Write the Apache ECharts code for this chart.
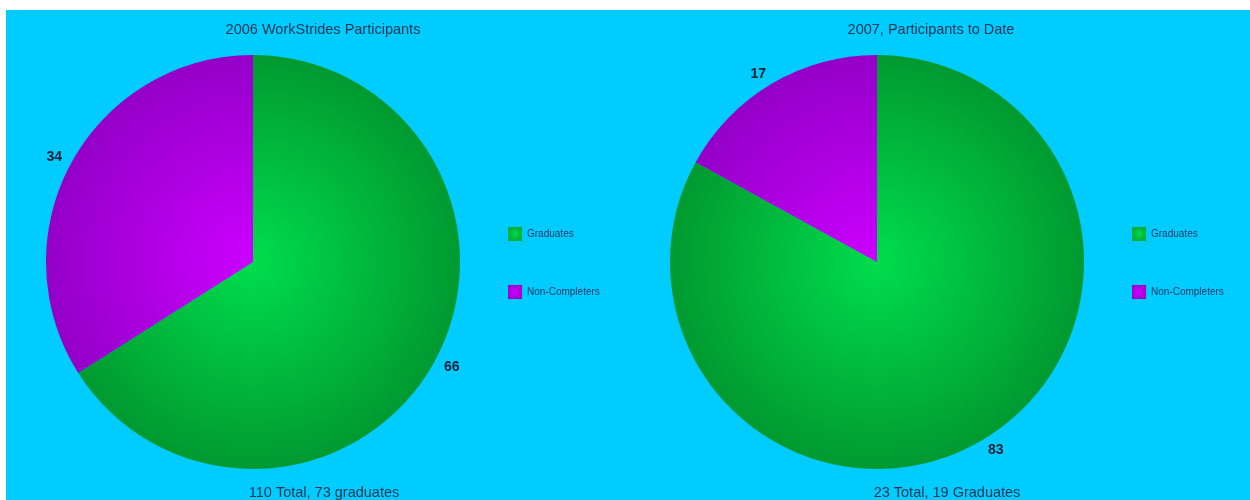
<!DOCTYPE html>
<html>
<head>
<meta charset="utf-8">
<script src="https://cdn.jsdelivr.net/npm/echarts@6/dist/echarts.min.js"></script>
<style>
html,body{margin:0;padding:0;background:#ffffff;}
#chart{width:1250px;height:500px;}
</style>
</head>
<body>
<div id="chart"></div>
<script>
const categories = ['Graduates', 'Non-Completers'];
const values2006 = [66, 34];
const values2007 = [83, 17];
const chartTitles = ['2006 WorkStrides Participants', '2007, Participants to Date'];
const chartFooters = ['110 Total, 73 graduates', '23 Total, 19 Graduates'];

const BG = '#00CCFF';
const TEXT = '#1a3552';
const FONT = 'Arial, "Liberation Sans", sans-serif';
const pies = [
  { cx: 253, cy: 262, r: 207, values: values2006, titleX: 318, footX: 319, legendX: 503 },
  { cx: 877, cy: 262, r: 207, values: values2007, titleX: 926, footX: 942, legendX: 1127 }
];

function grad(p, inner, outer) {
  return { type: 'radial', x: p.cx, y: p.cy, r: p.r, global: true,
    colorStops: [{ offset: 0, color: inner }, { offset: 1, color: outer }] };
}
function legendGrad(inner, outer) {
  return { type: 'radial', x: 0.5, y: 0.5, r: 0.6,
    colorStops: [{ offset: 0, color: inner }, { offset: 1, color: outer }] };
}

const chart = echarts.init(document.getElementById('chart'), null, { renderer: 'canvas' });

const option = {
  backgroundColor: '#ffffff',
  animation: false,
  graphic: [{
    type: 'rect', z: -10, silent: true,
    shape: { x: 6, y: 10, width: 1244, height: 490 },
    style: { fill: BG }
  }],
  title: pies.map((p, i) => ({
    text: chartTitles[i],
    left: p.titleX, top: 17, textAlign: 'center',
    textStyle: { fontSize: 14.5, fontWeight: 'normal', color: TEXT, fontFamily: FONT }
  })).concat(pies.map((p, i) => ({
    text: chartFooters[i],
    left: p.footX, top: 480, textAlign: 'center',
    textStyle: { fontSize: 14.5, fontWeight: 'normal', color: TEXT, fontFamily: FONT }
  }))),
  legend: pies.map((p, i) => ({
    orient: 'vertical', left: p.legendX, top: 222,
    itemWidth: 14, itemHeight: 14, itemGap: 44,
    icon: 'rect',
    data: categories.map((c, j) => ({
      name: c,
      itemStyle: { color: j === 0 ? legendGrad('#00dd4a', '#00a534') : legendGrad('#d400ff', '#9a00cc') }
    })),
    selectedMode: false,
    textStyle: { fontSize: 10, color: '#1a3a6a', fontFamily: FONT, padding: [10, 0, 0, 0] }
  })),
  series: pies.map((p, i) => ({
    type: 'pie',
    center: [p.cx, p.cy],
    radius: p.r,
    startAngle: 90,
    clockwise: true,
    avoidLabelOverlap: false,
    emphasis: { disabled: true },
    label: {
      show: true, position: 'outside', formatter: '{c}',
      fontSize: 14, fontWeight: 'bold', color: '#0d2035', fontFamily: FONT,
      distanceToLabelLine: 0
    },
    labelLine: { show: false, length: 11, length2: 0 },
    data: categories.map((c, j) => ({
      name: c,
      value: p.values[j],
      itemStyle: {
        color: j === 0 ? grad(p, '#00dd4c', '#009a30') : grad(p, '#cc00ff', '#9400c8')
      }
    }))
  }))
};
chart.setOption(option);
</script>
</body>
</html>
